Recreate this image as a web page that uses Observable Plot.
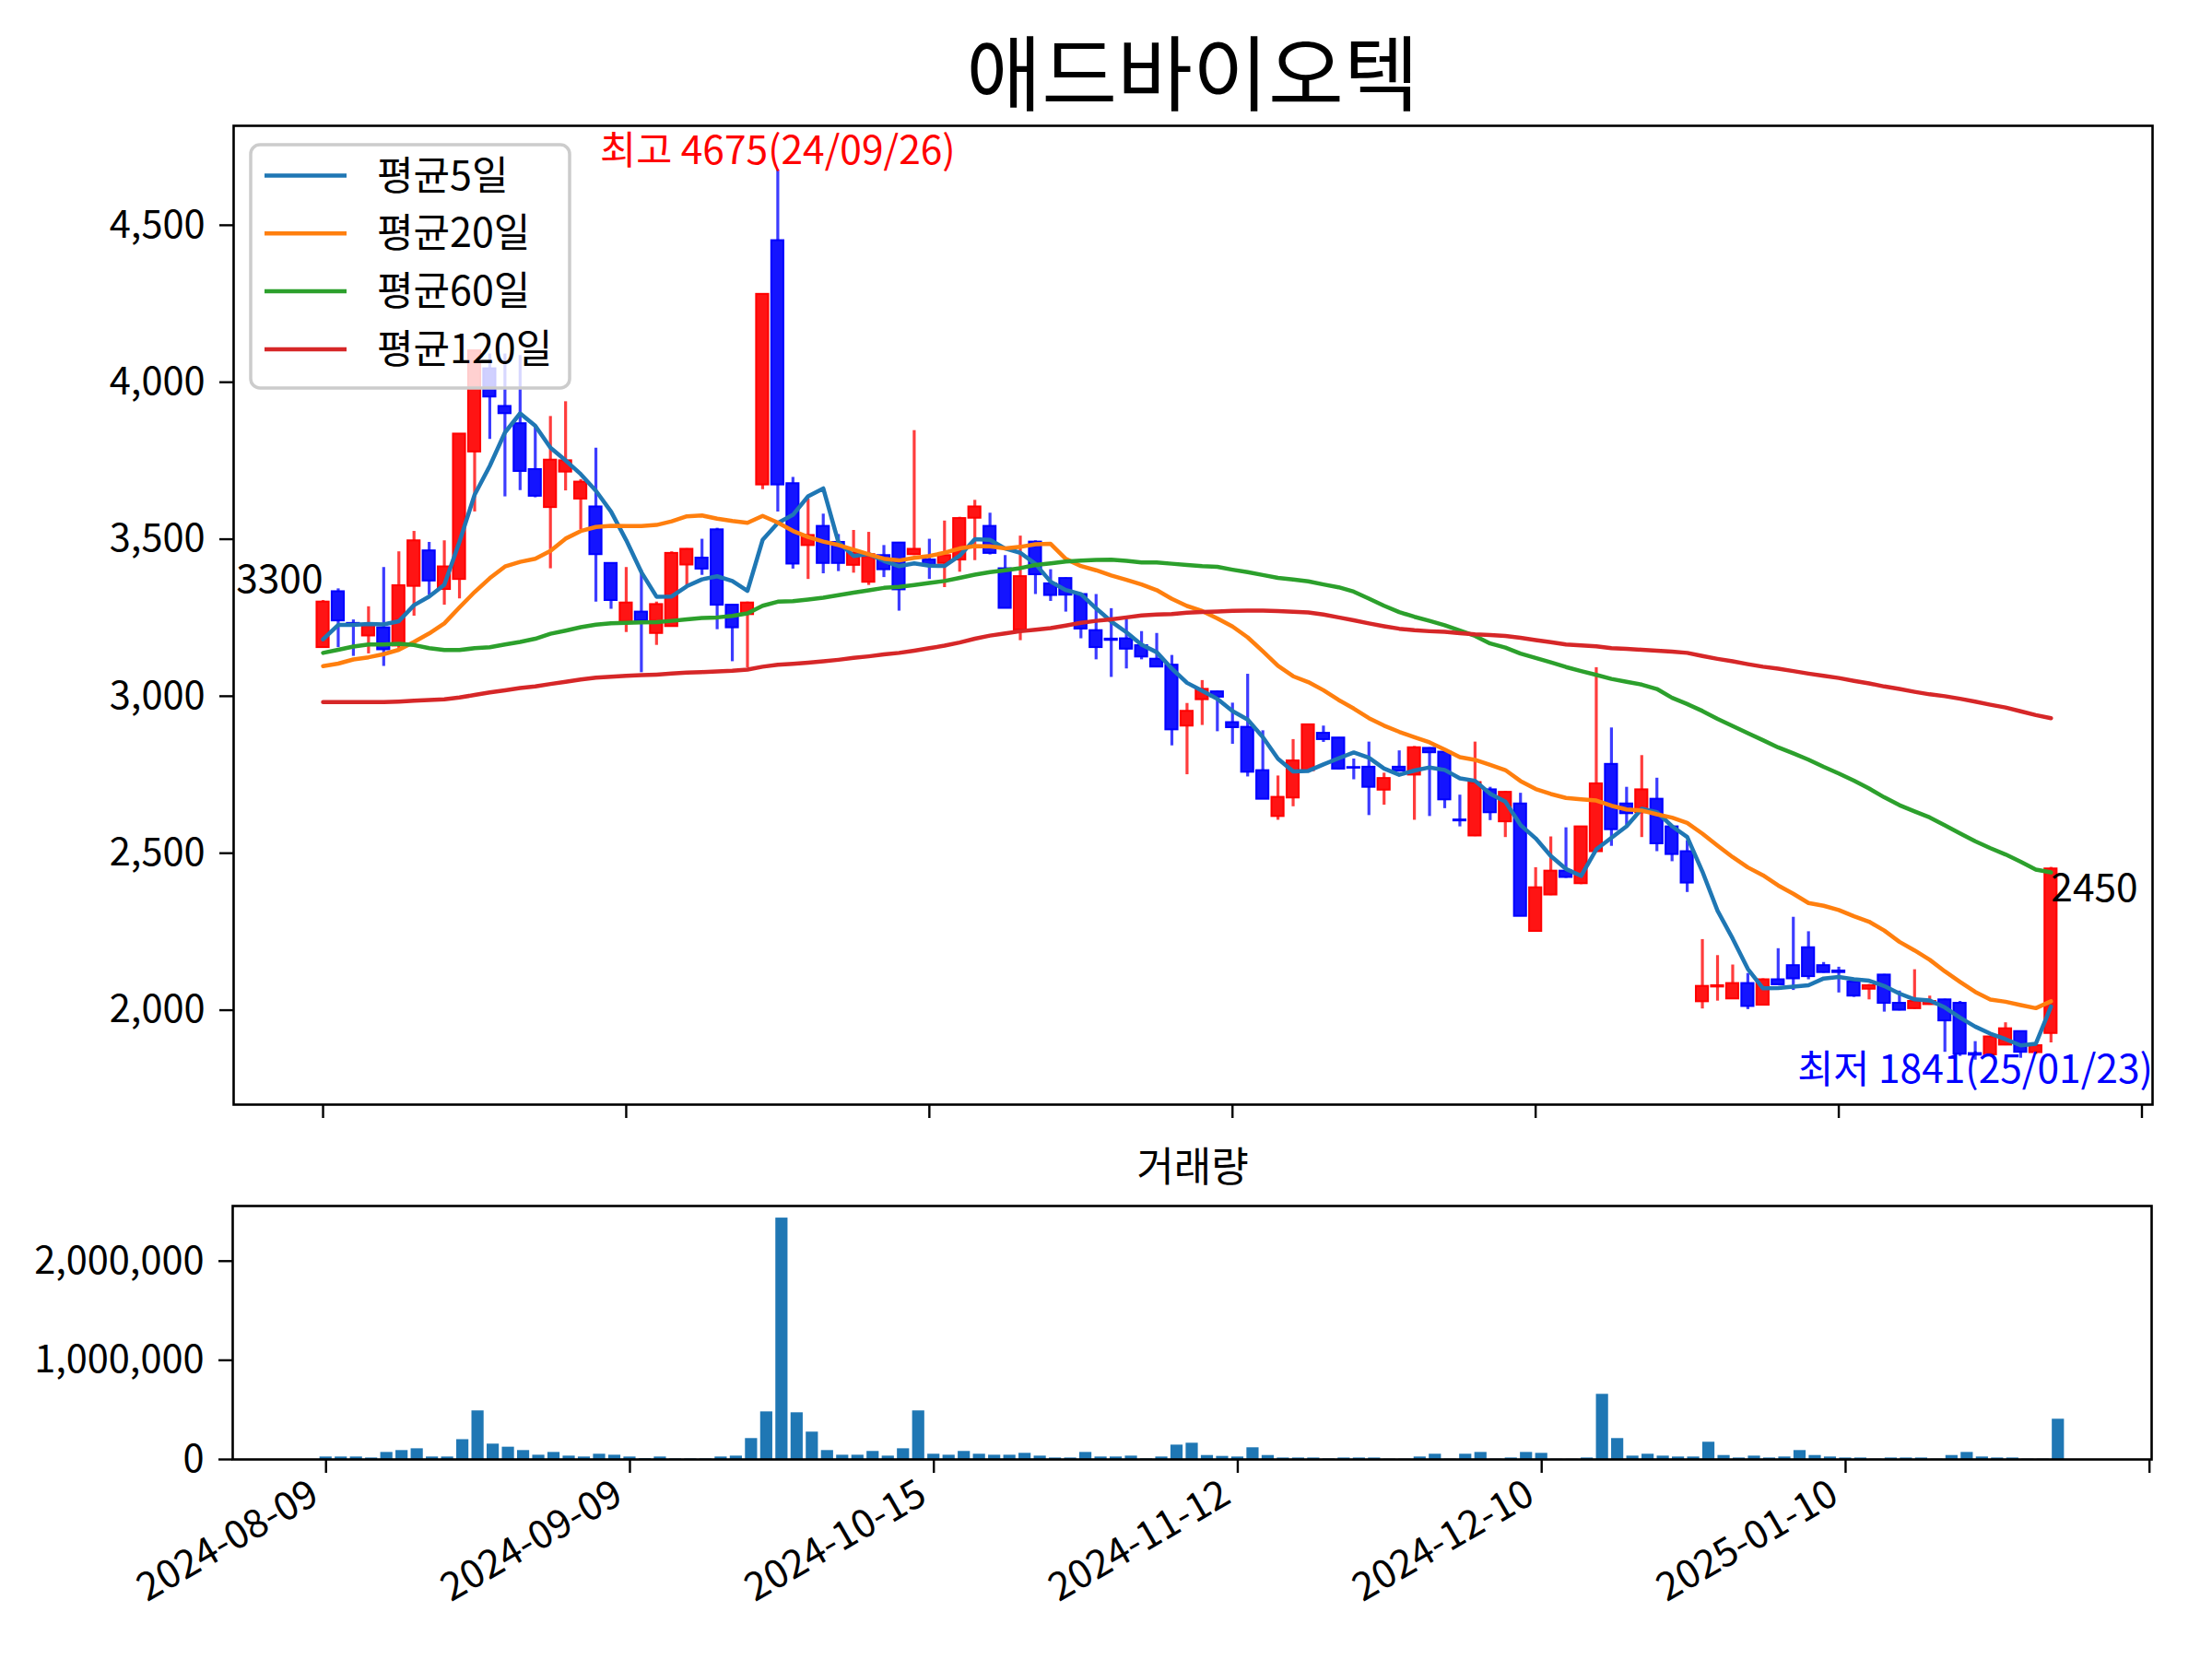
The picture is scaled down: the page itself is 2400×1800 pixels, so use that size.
<!DOCTYPE html>
<html>
<head>
<meta charset="utf-8">
<script src="https://cdn.jsdelivr.net/npm/d3@7"></script>
<script src="https://cdn.jsdelivr.net/npm/@observablehq/plot@0.6"></script>
<style>
  html, body { margin: 0; padding: 0; background: #fff; }
  #wrap { position: relative; width: 2400px; height: 1800px; overflow: hidden; background: #fff;
          font-family: "Noto Sans CJK KR", "Noto Sans", sans-serif; }
  #wrap > svg { position: absolute; left: 0; }
</style>
</head>
<body>
<div id="wrap"></div>
<script>
// ---------------- data ----------------
const dates = [
"2024-08-09","2024-08-12","2024-08-13","2024-08-14","2024-08-16","2024-08-19","2024-08-20","2024-08-21","2024-08-22","2024-08-23",
"2024-08-26","2024-08-27","2024-08-28","2024-08-29","2024-08-30","2024-09-02","2024-09-03","2024-09-04","2024-09-05","2024-09-06",
"2024-09-09","2024-09-10","2024-09-11","2024-09-12","2024-09-13","2024-09-19","2024-09-20","2024-09-23","2024-09-24","2024-09-25",
"2024-09-26","2024-09-27","2024-09-30","2024-10-02","2024-10-04","2024-10-07","2024-10-08","2024-10-10","2024-10-11","2024-10-14",
"2024-10-15","2024-10-16","2024-10-17","2024-10-18","2024-10-21","2024-10-22","2024-10-23","2024-10-24","2024-10-25","2024-10-28",
"2024-10-29","2024-10-30","2024-10-31","2024-11-01","2024-11-04","2024-11-05","2024-11-06","2024-11-07","2024-11-08","2024-11-11",
"2024-11-12","2024-11-13","2024-11-14","2024-11-15","2024-11-18","2024-11-19","2024-11-20","2024-11-21","2024-11-22","2024-11-25",
"2024-11-26","2024-11-27","2024-11-28","2024-11-29","2024-12-02","2024-12-03","2024-12-04","2024-12-05","2024-12-06","2024-12-09",
"2024-12-10","2024-12-11","2024-12-12","2024-12-13","2024-12-16","2024-12-17","2024-12-18","2024-12-19","2024-12-20","2024-12-23",
"2024-12-24","2024-12-26","2024-12-27","2024-12-30","2025-01-02","2025-01-03","2025-01-06","2025-01-07","2025-01-08","2025-01-09",
"2025-01-10","2025-01-13","2025-01-14","2025-01-15","2025-01-16","2025-01-17","2025-01-20","2025-01-21","2025-01-22","2025-01-23",
"2025-01-24","2025-01-31","2025-02-03","2025-02-04","2025-02-05"];

const open = [3155,3333,3232,3192,3218,3160,3350,3463,3340,3372,
3778,4043,3923,3868,3722,3601,3714,3628,3603,3423,
3237,3268,3200,3222,3418,3440,3530,3290,3260,3673,
4451,3677,3480,3541,3490,3417,3363,3448,3488,3451,
3434,3423,3434,3567,3541,3406,3211,3491,3358,3375,
3324,3209,3182,3183,3161,3118,3099,2905,2989,3014,
2916,2901,2763,2617,2676,2763,2882,2867,2773,2774,
2701,2774,2749,2834,2822,2606,2555,2702,2600,2657,
2251,2367,2443,2403,2505,2783,2657,2629,2672,2584,
2505,2027,2074,2036,2085,2016,2097,2142,2199,2142,
2125,2090,2067,2112,2022,2005,2018,2033,2022,1862,
1858,1889,1932,1865,1926];

const high = [3305,3342,3243,3285,3410,3460,3525,3490,3495,3835,
4100,4090,4090,4085,3860,3891,3938,3690,3790,3425,
3410,3400,3300,3460,3470,3500,3535,3292,3300,4280,
4675,3697,3628,3580,3515,3528,3522,3480,3490,3846,
3500,3558,3570,3624,3583,3448,3510,3495,3403,3377,
3326,3324,3279,3245,3206,3200,3130,2977,3050,3016,
2978,3070,2890,2746,2862,2910,2905,2868,2800,2854,
2755,2826,2840,2836,2825,2685,2854,2710,2697,2691,
2454,2552,2581,2585,3091,2899,2710,2811,2739,2585,
2540,2225,2174,2144,2117,2100,2196,2296,2250,2152,
2137,2095,2082,2114,2061,2129,2045,2035,2028,1900,
1917,1960,1934,1890,2455];

const low = [3155,3155,3127,3135,3095,3150,3255,3322,3290,3310,
3587,3818,3635,3655,3632,3406,3654,3530,3300,3277,
3203,3075,3162,3220,3350,3385,3212,3110,3090,3658,
3587,3405,3372,3390,3397,3392,3353,3378,3271,3448,
3372,3346,3395,3432,3450,3279,3177,3324,3302,3268,
3183,3116,3060,3087,3116,3093,2842,2750,2907,2887,
2847,2743,2672,2605,2648,2760,2853,2766,2734,2620,
2653,2758,2605,2617,2642,2584,2553,2604,2550,2298,
2250,2365,2420,2400,2503,2522,2589,2550,2505,2473,
2375,2004,2029,2034,2002,2014,2079,2063,2097,2118,
2055,2041,2033,1994,1998,2003,2016,1866,1853,1841,
1855,1887,1847,1859,1896];

const close = [3300,3240,3230,3225,3148,3352,3495,3367,3412,3835,
4100,3953,3900,3716,3637,3752,3750,3682,3451,3305,
3297,3240,3292,3455,3468,3405,3290,3218,3297,4280,
3673,3421,3512,3423,3423,3455,3451,3403,3339,3468,
3417,3448,3566,3603,3455,3280,3381,3387,3321,3322,
3214,3155,3178,3150,3125,3093,2893,2952,3022,2997,
2900,2758,2672,2678,2794,2909,2862,2768,2771,2710,
2738,2762,2836,2820,2670,2603,2725,2629,2694,2299,
2390,2443,2423,2584,2721,2575,2626,2702,2530,2496,
2405,2076,2078,2085,2012,2097,2081,2100,2107,2120,
2120,2045,2078,2022,2000,2028,2028,1966,1860,1857,
1915,1941,1866,1887,2450];

const volume = [25000,25000,25000,15000,71000,90000,108000,25000,25000,200000,
490000,155000,124000,90000,43000,71000,34000,25000,53000,43000,
25000,8000,25000,5000,5000,5000,25000,34000,211000,480000,
2434000,471000,276000,90000,43000,43000,81000,34000,108000,490000,
53000,43000,81000,53000,43000,43000,62000,34000,15000,15000,
71000,25000,25000,34000,5000,25000,145000,164000,40000,31000,
25000,118000,40000,15000,15000,15000,5000,15000,15000,15000,
3000,3000,25000,53000,3000,53000,71000,3000,15000,71000,
62000,2000,2000,15000,657000,211000,34000,53000,34000,25000,
25000,174000,40000,15000,34000,15000,25000,90000,40000,25000,
15000,15000,3000,15000,15000,15000,3000,40000,71000,25000,
15000,15000,3000,3000,406000];

// moving-average values before a full window exists
const ma5Head = [3181,3227,3227,3230];
const ma20Head = [3096,3104,3117,3124,3134,3148,3173,3200,3232,3283,3332,3376,3413,3428,3438,3463,3502,3526,3539];

const ma60 = [3138,3148,3158,3165,3165,3167,3163,3153,3147,3147,3153,3156,3165,3173,3183,3199,3209,3220,3228,3232,3234,3235,
3236,3240,3245,3249,3251,3256,3264,3288,3301,3303,3308,3314,3322,3330,3337,3345,3348,3354,3361,3367,3377,3387,3395,3401,3408,3418,
3423,3429,3432,3434,3435,3431,3426,3426,3422,3418,3414,3412,3403,3395,3386,3377,3372,3366,3356,3347,3333,3311,3288,3268,3253,3240,3226,
3209,3192,3168,3155,3136,3122,3108,3093,3080,3068,3055,3046,3037,3023,2995,2975,2953,2928,2905,2882,2860,2837,2818,2798,2775,2754,2731,
2706,2678,2653,2633,2614,2589,2563,2538,2516,2496,2473,2448,2439];

const ma120 = [2981,2981,2981,2981,2981,2983,2986,2988,2990,2996,3004,3012,3019,3026,3031,3039,3046,3053,3059,3062,3065,3067,
3069,3072,3075,3077,3079,3081,3085,3094,3100,3103,3107,3111,3116,3122,3127,3133,3138,3145,3153,3161,3171,3183,3193,3200,3207,3212,
3217,3225,3234,3240,3245,3251,3257,3260,3262,3266,3268,3270,3272,3273,3273,3271,3269,3267,3260,3251,3242,3232,3223,3215,3210,3207,3205,
3201,3197,3195,3192,3186,3179,3172,3165,3162,3159,3153,3151,3148,3145,3142,3138,3128,3119,3111,3102,3094,3088,3080,3072,3065,3058,3049,
3041,3031,3023,3014,3006,3000,2992,2983,2973,2964,2952,2940,2930];

const xTicks = [0, 20, 40, 60, 80, 100, 120];
const xTickLabels = ["2024-08-09","2024-09-09","2024-10-15","2024-11-12","2024-12-10","2025-01-10",""];
const yTicks = [2000, 2500, 3000, 3500, 4000, 4500];
const volTicks = [0, 1000000, 2000000];

const titleText = "애드바이오텍";
const volTitle = "거래량";
const seriesNames = ["평균5일","평균20일","평균60일","평균120일"];
const seriesColors = ["#1f77b4","#ff7f0e","#2ca02c","#d62728"];

// ---------------- derived tables ----------------
const N = close.length;
const idx = d3.range(N);
const candles = idx.map(i => ({i, o: open[i], h: high[i], l: low[i], c: close[i]}));
const upC = candles.filter(d => d.c >= d.o);
const dnC = candles.filter(d => d.c < d.o);
const ma5 = idx.map(i => i < 4 ? ma5Head[i] : d3.mean(close.slice(i - 4, i + 1)));
const ma20 = idx.map(i => i < 19 ? ma20Head[i] : d3.mean(close.slice(i - 19, i + 1)));
const maSeries = [ma5, ma20, ma60, ma120];
const volData = idx.map(i => ({i, v: volume[i]}));

const hiIdx = d3.maxIndex(high);
const loIdx = d3.minIndex(low);
const shortDate = s => s.slice(2).replace(/-/g, "/");

const FONT = '"Noto Sans CJK KR", "Noto Sans", sans-serif';
const FT = 41.5;   // tick labels
const FA = 42.5;   // annotations
const W = 2400;

// ---------------- price panel ----------------
const yMin = d3.min(low), yMax = d3.max(high), yPad = (yMax - yMin) * 0.05;
const price = Plot.plot({
  width: W, height: 1240,
  marginLeft: 253, marginRight: 65, marginTop: 136, marginBottom: 42,
  style: {fontFamily: FONT, fontSize: FT + "px", color: "black", background: "transparent"},
  x: {domain: [-5.9, 120.7]},
  y: {domain: [yMin - yPad, yMax + yPad]},
  marks: [
    Plot.ruleX(upC, {x: "i", y1: "l", y2: "h", stroke: "#ff3c3c", strokeWidth: 3.2}),
    Plot.ruleX(dnC, {x: "i", y1: "l", y2: "h", stroke: "#3c3cff", strokeWidth: 3.2}),
    Plot.rect(upC, {x1: d => d.i - 0.4, x2: d => d.i + 0.4, y1: "o", y2: "c", fill: "#ff1414", stroke: "#ff0000", strokeWidth: 2}),
    Plot.rect(dnC, {x1: d => d.i - 0.4, x2: d => d.i + 0.4, y1: "o", y2: "c", fill: "#1414ff", stroke: "#0000ff", strokeWidth: 2}),
    ...maSeries.map((s, k) => Plot.line(s, {x: (d, i) => i, y: d => d, stroke: seriesColors[k], strokeWidth: 4.5})),
    Plot.text([hiIdx], {x: d => d, y: d => high[d], text: d => `최고 ${high[d]}(${shortDate(dates[d])})`,
      fill: "#ff0000", fontSize: FA, textAnchor: "middle", lineAnchor: "bottom", dy: -7}),
    Plot.text([loIdx], {x: d => d, y: d => low[d], text: d => `최저 ${low[d]}(${shortDate(dates[d])})`,
      fill: "#0000ff", fontSize: FA, textAnchor: "middle", lineAnchor: "top", dy: -5}),
    Plot.text([0], {x: d => d, y: d => close[d], text: d => String(close[d]),
      fill: "black", fontSize: FA, textAnchor: "end", lineAnchor: "bottom", dy: -10}),
    Plot.text([N - 1], {x: d => d, y: d => close[d], text: d => String(close[d]),
      fill: "black", fontSize: FA, textAnchor: "start", lineAnchor: "top", dy: 5}),
    Plot.axisY({ticks: yTicks, tickFormat: d3.format(","), tickSize: 15, tickPadding: 16, fontSize: FT, label: null, strokeWidth: 2.4}),
    Plot.axisX({ticks: xTicks, tickFormat: () => "", tickSize: 15, label: null, strokeWidth: 2.4}),
    Plot.frame({stroke: "black", strokeWidth: 2.6})
  ]
});
price.style.top = "0px";

// ---------------- volume panel ----------------
const vMax = d3.max(volume) * 1.05;
const vol = Plot.plot({
  width: W, height: 560,
  marginLeft: 252, marginRight: 66, marginTop: 68, marginBottom: 217,
  style: {fontFamily: FONT, fontSize: FT + "px", color: "black", background: "transparent"},
  x: {domain: [-6.14, 120.14]},
  y: {domain: [0, vMax]},
  marks: [
    Plot.rect(volData, {x1: d => d.i - 0.4, x2: d => d.i + 0.4, y1: d => 0, y2: "v", fill: "#1f77b4"}),
    Plot.axisY({ticks: volTicks, tickFormat: d3.format(","), tickSize: 15, tickPadding: 16, fontSize: FT, label: null, strokeWidth: 2.4}),
    // tick marks
    Plot.axisX({ticks: xTicks, tickFormat: () => "", tickSize: 15, label: null, strokeWidth: 2.4}),
    // rotated date labels (shifted left so their upper right corner sits at the tick)
    Plot.axisX({ticks: xTicks, tickFormat: t => xTickLabels[xTicks.indexOf(t)], tickRotate: -30, tickSize: 0, tickPadding: 34,
      dx: -12, fontSize: 42.5, label: null}),
    Plot.frame({stroke: "black", strokeWidth: 2.6})
  ]
});
vol.style.top = "1240px";

const wrap = document.getElementById("wrap");
wrap.append(price);
wrap.append(vol);

// ---------------- title, subtitle, legend (overlay) ----------------
const ov = d3.select(wrap).append("svg")
  .attr("width", W).attr("height", 1800)
  .style("position", "absolute").style("top", "0px").style("left", "0px")
  .style("font-family", FONT);

ov.append("text").attr("x", 1294).attr("y", 113).attr("text-anchor", "middle")
  .attr("font-size", 89).attr("fill", "black").text(titleText);
ov.append("text").attr("x", 1294).attr("y", 1282).attr("text-anchor", "middle")
  .attr("font-size", 44).attr("fill", "black").text(volTitle);

const lg = ov.append("g");
lg.append("rect").attr("x", 272).attr("y", 157).attr("width", 346).attr("height", 264)
  .attr("rx", 10).attr("fill", "white").attr("fill-opacity", 0.8)
  .attr("stroke", "#cccccc").attr("stroke-width", 3.5);
seriesNames.forEach((name, k) => {
  const cy = 190.5 + k * 62.8;
  lg.append("line").attr("x1", 287).attr("x2", 376).attr("y1", cy).attr("y2", cy)
    .attr("stroke", seriesColors[k]).attr("stroke-width", 4.5);
  lg.append("text").attr("x", 409).attr("y", cy + 15).attr("font-size", 43).attr("fill", "black").text(name);
});
</script>
</body>
</html>
